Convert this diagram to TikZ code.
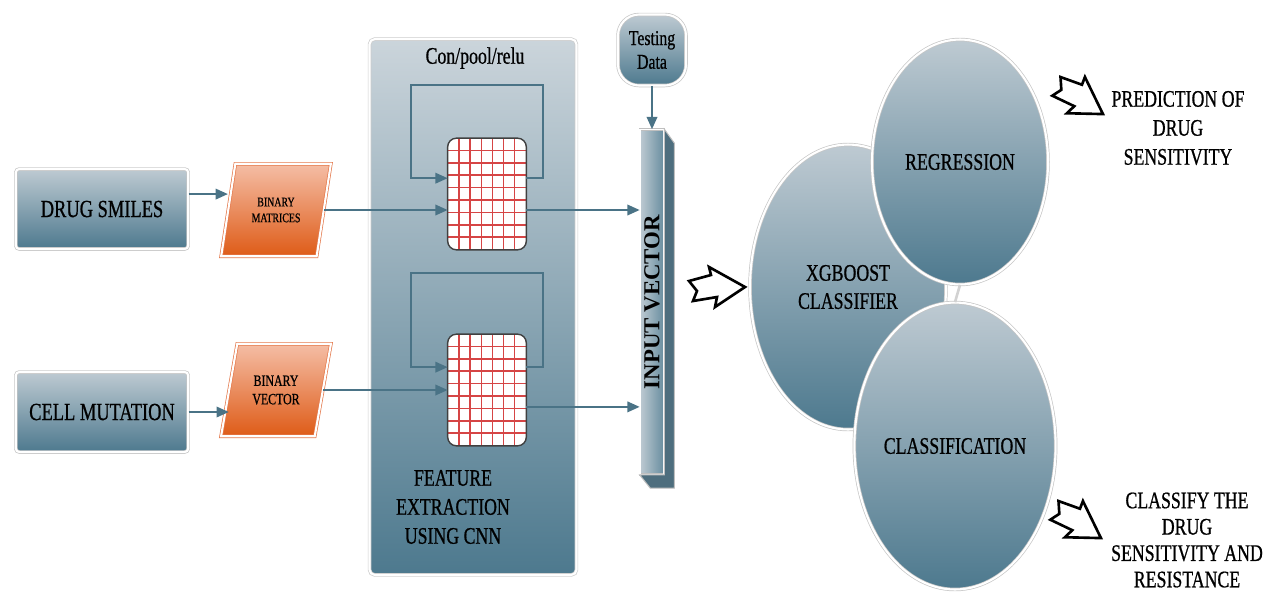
\documentclass[tikz,border=0pt]{standalone}
\usepackage{fontspec}
\setmainfont{Liberation Serif}[FakeStretch=0.75, FakeBold=0.7]
\newfontfamily\barfont{Liberation Serif}
\usetikzlibrary{shapes.geometric,arrows.meta,positioning}

\definecolor{slatetop}{HTML}{BECAD2}
\definecolor{slatebot}{HTML}{4D798E}
\definecolor{ambertop}{HTML}{F5BEA6}
\definecolor{amberbot}{HTML}{DE5B17}
\definecolor{amberrim}{HTML}{E4794C}
\definecolor{linkblue}{HTML}{4A7386}
\definecolor{cellred}{HTML}{D64545}
\definecolor{sidegray}{HTML}{4E6E7E}

\tikzset{
  inbox/.style={rectangle, rounded corners=2pt, top color=slatetop, bottom color=slatebot,
    draw=gray!45, double=white, double distance=1.2pt,
    minimum width=3.45cm, minimum height=1.6cm, font=\fontsize{14}{16}\selectfont},
  binbox/.style={trapezium, trapezium left angle=72, trapezium right angle=108,
    trapezium stretches=true, top color=ambertop, bottom color=amberbot,
    draw=amberrim, double=white, double distance=1.2pt,
    minimum width=2.2cm, minimum height=1.85cm, align=center, inner sep=1pt},
  panel/.style={rectangle, rounded corners=3pt, top color=slatetop!80!white, bottom color=slatebot,
    draw=gray!40, double=white, double distance=1.2pt,
    minimum width=4.14cm, minimum height=10.72cm},
  gridbox/.style={rectangle, rounded corners=5pt, fill=white,
    minimum width=1.56cm, minimum height=2.22cm},
  gridline/.style={draw=cellred, line width=0.9pt},
  testbox/.style={rectangle, rounded corners=12pt, top color=slatetop, bottom color=slatebot,
    draw=gray!45, double=white, double distance=1.2pt,
    minimum width=1.36cm, minimum height=1.42cm, align=center,
    font=\fontsize{12}{13.5}\selectfont},
  ivbar/.style={rectangle, left color=slatetop, right color=slatebot!85!white,
    draw=gray!50, double=white, double distance=0.8pt,
    minimum width=0.48cm, minimum height=6.9cm},
  ivside/.style={fill=sidegray, draw=gray!50, line width=0.6pt},
  oval/.style={ellipse, top color=slatetop, bottom color=slatebot,
    draw=gray!45, double=white, double distance=1.2pt, inner sep=0pt,
    align=center, font=\fontsize{13.5}{16}\selectfont},
  plain/.style={align=center, font=\fontsize{13.5}{16.5}\selectfont},
  link/.style={draw=linkblue, line width=1.1pt},
  bolt/.style={draw=black, fill=white, line width=1.5pt, line join=miter},
  >={Triangle[length=7pt,width=6pt]}
}

\begin{document}
\begin{tikzpicture}[x=0.02cm, y=-0.02cm]
  \useasboundingbox (0,0) rectangle (1264,600);

  \node[panel] (cnn) at (473,307) {};
  \node[plain] (conv) at (475,58) {Con/pool/relu};
  \node[plain] (feat) at (453,507) {FEATURE\\EXTRACTION\\USING CNN};

  \node[inbox] (smiles) at (102,209) {DRUG SMILES};
  \node[inbox] (cell) at (102,412) {CELL MUTATION};
  \node[binbox, font=\fontsize{7.5}{9}\selectfont] (bmat) at (276,210) {BINARY\\MATRICES};
  \node[binbox, font=\fontsize{9}{10.5}\selectfont] (bvec) at (276,390) {BINARY\\VECTOR};

  \node[gridbox] (g1) at (487,194) {};
  \node[gridbox] (g2) at (487,390) {};
  \foreach \g/\gy in {g1/194, g2/390} {
    \begin{scope}
      \clip[rounded corners=5pt] (\g.south west) rectangle (\g.north east);
      \foreach \i in {1,...,6}
        \draw[gridline] (448+\i*11.1,\gy-56) -- ++(0,112);
      \foreach \j in {1,...,8}
        \draw[gridline] (448,\gy-56+\j*12.4) -- ++(78,0);
    \end{scope}
    \draw[rounded corners=5pt, draw=black!75, line width=0.8pt]
      (\g.south west) rectangle (\g.north east);
  }

  \node[testbox] (test) at (652,50) {Testing\\Data};
  \node[ivbar] (iv) at (652,302) {};
  \draw[ivside] (iv.north east) -- ++(10,14) -- ++(0,345) -- ++(-24,0)
    -- (iv.south west) -- (iv.south east) -- cycle;
  \node[rotate=90, font=\barfont\bfseries\fontsize{13}{15}\selectfont] (ivtext) at (iv) {INPUT VECTOR};

  \node[oval, minimum width=3.92cm, minimum height=5.7cm] (xgb) at (848,287) {XGBOOST\\CLASSIFIER};
  \node[oval, minimum width=3.52cm, minimum height=4.9cm] (reg) at (960,162) {REGRESSION};
  \node[oval, minimum width=3.8cm, minimum height=5.74cm] (cls) at (955,446) {CLASSIFICATION};
  \draw[gray!35, line width=1.5pt] (reg.south) -- (cls.north);

  \node[plain] (pred) at (1178,128) {PREDICTION OF\\DRUG\\SENSITIVITY};
  \node[plain, font=\fontsize{13.5}{15}\selectfont] (res) at (1187,540) {CLASSIFY THE\\DRUG\\SENSITIVITY AND\\RESISTANCE};

  \coordinate (a1) at ([yshift=8.5pt]smiles.east);
  \coordinate (o2) at ([yshift=-9.6pt]g2.east);
  \draw[link,->] (a1) -- (a1 -| bmat.west);
  \draw[link,->] (cell.east) -- (cell.east -| bvec.west);
  \draw[link,->] (bmat.east) -- (bmat.east -| g1.west);
  \draw[link,->] (bvec.east) -- (bvec.east -| g2.west);
  \draw[link,->] (bmat.east -| g1.east) -- (bmat.east -| iv.west);
  \draw[link,->] (o2) -- (o2 -| iv.west);
  \draw[link,->] ([yshift=9pt]g1.east) -- ++(17,0) -- ++(0,-93) -- ++(-132,0)
    -- ++(0,93) -- ([yshift=9pt]g1.west);
  \draw[link,->] ([yshift=13pt]g2.east) -- ++(17,0) -- ++(0,-94) -- ++(-132,0)
    -- ++(0,94) -- ([yshift=13pt]g2.west);
  \draw[link,->] (test.south) -- (iv.north);

  \foreach \px/\py/\ang in {717/287/0, 1080/98/-35, 1078/522/-35}
    \draw[bolt, shift={(\px,\py)}, rotate=\ang]
      (-28,-6) -- (-6,-12) -- (-8,-20) -- (28,0) -- (-2,20) -- (0,10)
      -- (-24,14) -- (-20,4) -- cycle;
\end{tikzpicture}
\end{document}
